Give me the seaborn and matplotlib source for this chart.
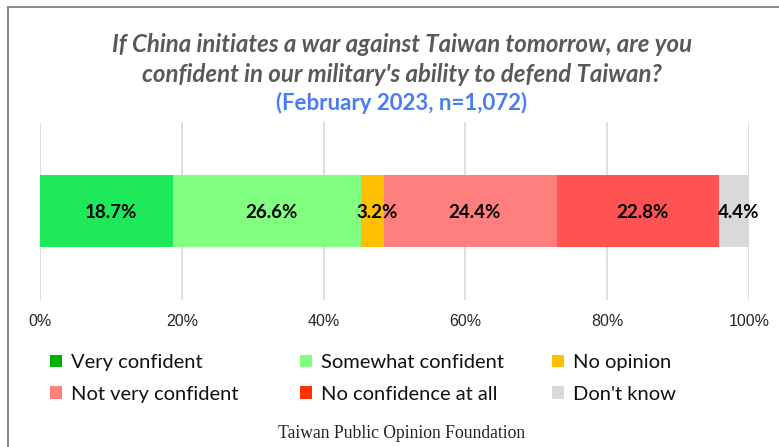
import matplotlib
matplotlib.use("Agg")
import matplotlib.pyplot as plt
import seaborn as sns
import pandas as pd
import numpy as np
from matplotlib.patches import Patch
from matplotlib.lines import Line2D

categories = ["Very confident", "Somewhat confident", "No opinion",
              "Not very confident", "No confidence at all", "Don't know"]
values = [18.7, 26.6, 3.2, 24.4, 22.8, 4.4]
bar_colors = ["#1DE95A", "#80FF80", "#FFC000", "#FF7F7F", "#FF5252", "#D9D9D9"]
legend_colors = ["#00B000", "#80FF80", "#FFC000", "#FF7F7F", "#FF3300", "#D9D9D9"]
xticks = [0, 20, 40, 60, 80, 100]
xtick_labels = ["0%", "20%", "40%", "60%", "80%", "100%"]

sns.set_theme(style="white")
plt.rcParams['font.family'] = ['Liberation Sans', 'DejaVu Sans']

fig = plt.figure(figsize=(7.79, 4.47), dpi=100)
ax = fig.add_axes([40/779, 1-300/447, 709/779, 178/447])

cum = np.cumsum(values)
df = pd.DataFrame({"cat": categories, "cum": cum, "row": ["r"] * len(categories)})
# draw cumulative layers from largest to smallest so they stack visually
for i in range(len(categories) - 1, -1, -1):
    sns.barplot(data=df.iloc[[i]], x="cum", y="row", orient="h",
                color=bar_colors[i], width=0.4, ax=ax, saturation=1,
                edgecolor="none", linewidth=0)

starts = np.concatenate([[0], cum[:-1]])
for s, v in zip(starts, values):
    ax.text(s + v / 2 + 0.6, 0.01, f"{v:.1f}%", ha="center", va="center",
            fontsize=13.5, fontweight="bold", color="black",
            family=["Lato", "DejaVu Sans"])

ax.set_xlim(0, 100)
ax.set_ylim(0.5, -0.5)
ax.set_xticks(xticks)
ax.set_xticklabels(xtick_labels, fontsize=11.5, color="#262626")
ax.set_yticks([])
ax.set_xlabel("")
ax.set_ylabel("")
ax.grid(axis="x", color="#D9D9D9", linewidth=1.2)
ax.set_axisbelow(True)
for sp in ax.spines.values():
    sp.set_visible(False)
ax.tick_params(axis="x", length=0, pad=10)

# titles
tkw = dict(ha="center", va="center", fontsize=17.3, style="italic", color="#595959",
           family=["Lato", "DejaVu Sans"], fontweight="bold")
fig.text(0.516, 1-45/447, "If China initiates a war against Taiwan tomorrow, are you", **tkw)
fig.text(0.516, 1-75/447, "confident in our military's ability to defend Taiwan?", **tkw)
fig.text(0.516, 1-103/447, "(February 2023, n=1,072)",
         ha="center", va="center", fontsize=16, fontweight="bold", color="#4A7CF7",
         family=["Lato", "DejaVu Sans"])

# legend: three columns, placed individually
col_x = [50/779, 300/779, 552/779]
for c in range(3):
    idx = [c, c + 3]
    handles = [Patch(facecolor=legend_colors[i], edgecolor="none") for i in idx]
    labels = [categories[i] for i in idx]
    leg = fig.legend(handles, labels, ncol=1, loc="upper left",
                     bbox_to_anchor=(col_x[c], 1-354/447), frameon=False,
                     prop={"family": "Lato", "size": 14.5},
                     handlelength=0.6, handleheight=0.6, handletextpad=0.45,
                     labelspacing=0.74, borderpad=0, borderaxespad=0)
    for t in leg.get_texts():
        t.set_color("#111111")

fig.text(0.516, 1-433/447, "Taiwan Public Opinion Foundation", ha="center", va="center",
         fontsize=12.7, family=["Liberation Serif", "DejaVu Serif"], color="#222222")

# frame lines
fig.add_artist(Line2D([8/779, 1], [1-7/447, 1-7/447], color="#8C8C8C", linewidth=1.5,
                      transform=fig.transFigure))
fig.add_artist(Line2D([8/779, 8/779], [0, 1-7/447], color="#8C8C8C", linewidth=1.5,
                      transform=fig.transFigure))

fig.savefig("out.png", dpi=100, facecolor="white")
